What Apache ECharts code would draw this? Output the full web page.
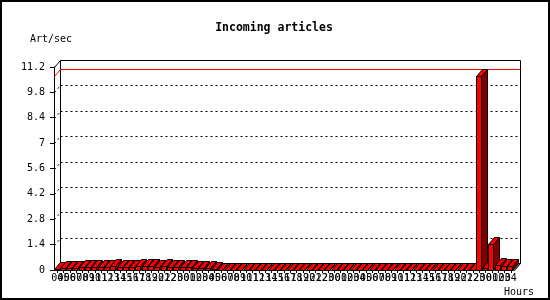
<!DOCTYPE html>
<html><head><meta charset="utf-8">
<script src="https://cdn.jsdelivr.net/npm/echarts@6/dist/echarts.min.js"></script>
<style>html,body{margin:0;padding:0;background:#fff}#c{width:550px;height:300px}</style>
</head><body><div id="c"></div>
<script>
const hours = ['04','05','06','07','08','09','10','11','12','13','14','15','16','17','18','19','20','21','22','23',
  '00','01','02','03','04','05','06','07','08','09','10','11','12','13','14','15','16','17','18','19','20','21','22','23',
  '00','01','02','03','04','05','06','07','08','09','10','11','12','13','14','15','16','17','18','19','20','21','22','23',
  '00','01','02','03','04'];
const articles = [0.08,0.12,0.1,0.12,0.15,0.14,0.16,0.15,0.18,0.2,0.18,0.17,0.19,0.2,0.22,0.21,0.19,0.2,0.18,0.17,
  0.16,0.14,0.12,0.1,0.1,0.08,0,0,0,0,0,0,0,0,0,0,0,0,0,0,0,0,0,0,
  0,0,0,0,0,0,0,0,0,0,0,0,0,0,0,0,0,0,0,0,0,0,0,10.7,
  0.1,1.45,0.25,0.2,0.22];
const yTickValues = [0,1.4,2.8,4.2,5.6,7,8.4,9.8,11.2];
const yTickLabels = ['0','1.4','2.8','4.2','5.6','7','8.4','9.8','11.2'];
const titleText = 'Incoming articles';
const yName = 'Art/sec';
const xName = 'Hours';

const DX = 6, DY = 7;
const FONT = '"DejaVu Sans Mono", "Liberation Mono", monospace';
const snap = v => Math.round(v) + 0.5;
const peak = Math.max(...articles);

function renderFrame(params, api) {
  const n = hours.length;
  const band = api.size([1, 0])[0];
  const xl = snap(api.coord([0, 0])[0] - band / 2);
  const xr = snap(api.coord([n - 1, 0])[0] + band / 2);
  const y0 = snap(api.coord([0, 0])[1]);
  const last = yTickValues.length - 1;
  const yT = snap(api.coord([0, yTickValues[last]])[1]);
  const ch = [];
  ch.push({type: 'polygon', shape: {points: [[xl, y0], [xr, y0], [xr + DX, y0 - DY], [xl + DX, y0 - DY]]},
    style: {fill: '#808080', stroke: null}});
  yTickValues.forEach((t, k) => {
    const y = snap(api.coord([0, t])[1]);
    const solid = (k === 0 || k === last);
    const st = {stroke: '#000', lineWidth: 1, lineDash: solid ? null : [2, 3], fill: null};
    ch.push({type: 'line', shape: {x1: xl + DX, y1: y - DY, x2: xr + DX, y2: y - DY}, style: st});
    ch.push({type: 'line', shape: {x1: xl, y1: y, x2: xl + DX, y2: y - DY}, style: st});
  });
  const ls = {stroke: '#000', lineWidth: 1, fill: null};
  ch.push({type: 'line', shape: {x1: xl + DX, y1: yT - DY, x2: xl + DX, y2: y0 - DY}, style: ls});
  ch.push({type: 'line', shape: {x1: xr + DX, y1: yT - DY, x2: xr + DX, y2: y0 - DY}, style: ls});
  ch.push({type: 'line', shape: {x1: xr, y1: y0, x2: xr + DX, y2: y0 - DY}, style: ls});
  const ym = snap(api.coord([0, peak])[1]);
  const rs = {stroke: '#ff0000', lineWidth: 1, fill: null};
  ch.push({type: 'line', shape: {x1: xl + DX, y1: ym - DY, x2: xr + DX, y2: ym - DY}, style: rs});
  ch.push({type: 'line', shape: {x1: xl, y1: ym, x2: xl + DX, y2: ym - DY}, style: rs});
  return {type: 'group', children: ch};
}

function renderBar(params, api) {
  const i = api.value(0), v = api.value(1);
  const band = api.size([1, 0])[0];
  const c = api.coord([i, v]);
  const b = api.coord([i, 0]);
  const x0 = Math.floor(c[0] - band / 2) + 0.5;
  const w = Math.round(band * 0.72);
  const x1 = x0 + w;
  const yt = snap(c[1]);
  const yb = snap(b[1]);
  const st = {stroke: '#000', lineWidth: 1};
  return {type: 'group', children: [
    {type: 'polygon', shape: {points: [[x1, yt], [x1 + DX, yt - DY], [x1 + DX, yb - DY], [x1, yb]]},
      style: Object.assign({fill: '#800000'}, st)},
    {type: 'polygon', shape: {points: [[x0, yt], [x1, yt], [x1 + DX, yt - DY], [x0 + DX, yt - DY]]},
      style: Object.assign({fill: '#ff0000'}, st)},
    {type: 'rect', shape: {x: x0, y: yt, width: w, height: yb - yt},
      style: Object.assign({fill: '#ff0000'}, st)}
  ]};
}

const chart = echarts.init(document.getElementById('c'), null, {renderer: 'canvas'});
chart.setOption({
  animation: false,
  backgroundColor: '#fff',
  grid: {left: 54, right: 36, top: 67, bottom: 30, containLabel: false},
  xAxis: {
    type: 'category', data: hours, boundaryGap: true,
    axisLine: {show: true, lineStyle: {color: '#000', width: 1}},
    axisTick: {show: true, alignWithLabel: true, length: 3, interval: 0, lineStyle: {color: '#000'}},
    axisLabel: {interval: 0, color: '#000', fontFamily: FONT, fontSize: 10, margin: 3, hideOverlap: false},
    splitLine: {show: false}
  },
  yAxis: {
    type: 'value', min: 0, max: 11.2, interval: 1.4,
    axisLine: {show: true, lineStyle: {color: '#000', width: 1}},
    axisTick: {show: true, length: 4, lineStyle: {color: '#000'}},
    axisLabel: {color: '#000', fontFamily: FONT, fontSize: 10, margin: 9,
      formatter: (val, idx) => yTickLabels[idx]},
    splitLine: {show: false}
  },
  series: [
    {type: 'custom', renderItem: renderFrame, data: [[0, 0]], clip: false, silent: true, z: 1,
      encode: {x: 0, y: 1}},
    {type: 'custom', renderItem: renderBar, data: articles.map((v, i) => [i, v]), clip: false, z: 2,
      encode: {x: 0, y: 1}}
  ],
  graphic: [
    {type: 'rect', shape: {x: 1, y: 1, width: 548, height: 298}, style: {fill: null, stroke: '#000', lineWidth: 2}, z: 10},
    {type: 'text', x: 274, y: 28, style: {text: titleText, font: 'bold 11.5px ' + FONT, fill: '#000', align: 'center', verticalAlign: 'middle'}},
    {type: 'text', x: 30, y: 39, style: {text: yName, font: '10px ' + FONT, fill: '#000', align: 'left', verticalAlign: 'middle'}},
    {type: 'text', x: 504, y: 292, style: {text: xName, font: '10px ' + FONT, fill: '#000', align: 'left', verticalAlign: 'middle'}}
  ]
});
</script></body></html>
